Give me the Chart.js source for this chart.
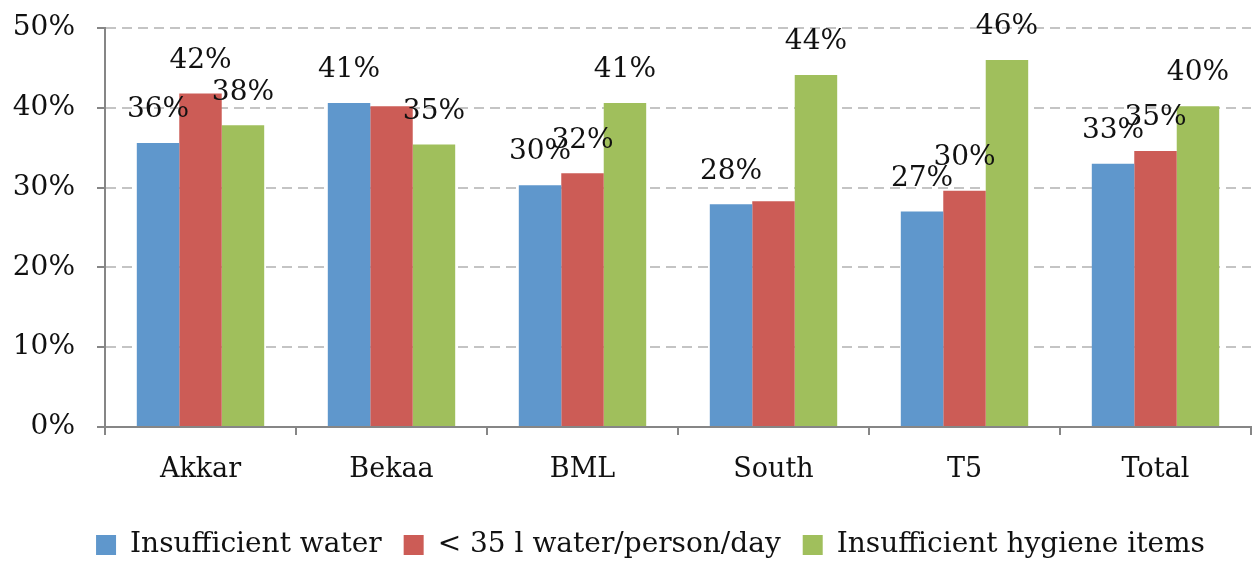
<!DOCTYPE html>
<html>
<head>
<meta charset="utf-8">
<script src="https://cdn.jsdelivr.net/npm/chart.js@4/dist/chart.umd.min.js"></script>
<style>
html,body{margin:0;padding:0;background:#fff;}
#wrap{width:1255px;height:563px;}
</style>
</head>
<body>
<div id="wrap"><canvas id="c" width="1255" height="563"></canvas></div>
<script>
const categories = ['Akkar', 'Bekaa', 'BML', 'South', 'T5', 'Total'];
const seriesNames = ['Insufficient water', '< 35 l water/person/day', 'Insufficient hygiene items'];
const insufficientWater = [35.6, 40.6, 30.3, 27.9, 27.0, 33.0];
const lessThan35l = [41.8, 40.2, 31.8, 28.3, 29.6, 34.6];
const insufficientHygiene = [37.8, 35.4, 40.6, 44.1, 46.0, 40.2];
const labelsWater = ['36%', '41%', '30%', '28%', '27%', '33%'];
const labelsLess35 = ['42%', '', '32%', '', '30%', '35%'];
const labelsHygiene = ['38%', '35%', '41%', '44%', '46%', '40%'];
const yTicks = [0, 10, 20, 30, 40, 50];

const FONT = "'DejaVu Serif', serif";
const colors = ['#5F97CC', '#CC5C56', '#A0BF5C'];
const allLabels = [labelsWater, labelsLess35, labelsHygiene];

const dataLabelPlugin = {
  id: 'dataLabels',
  afterDatasetsDraw(chart) {
    const ctx = chart.ctx;
    ctx.save();
    ctx.font = "28px " + FONT;
    ctx.fillStyle = '#111';
    ctx.textAlign = 'center';
    ctx.textBaseline = 'middle';
    chart.data.datasets.forEach((ds, di) => {
      const meta = chart.getDatasetMeta(di);
      meta.data.forEach((bar, i) => {
        const t = allLabels[di][i];
        if (!t) return;
        ctx.fillText(t, bar.x, bar.y - 33);
      });
    });
    ctx.restore();
  }
};

const legendShift = {
  id: 'legendShift',
  afterLayout(chart) {
    const lg = chart.legend;
    if (!lg) return;
    lg.left += 25; lg.right += 25;
    lg.top += 6; lg.bottom += 6;
  }
};

new Chart(document.getElementById('c'), {
  type: 'bar',
  data: {
    labels: categories,
    datasets: [
      { label: seriesNames[0], data: insufficientWater, backgroundColor: colors[0] },
      { label: seriesNames[1], data: lessThan35l, backgroundColor: colors[1] },
      { label: seriesNames[2], data: insufficientHygiene, backgroundColor: colors[2] }
    ]
  },
  options: {
    responsive: false,
    devicePixelRatio: 1,
    animation: false,
    layout: { padding: { top: 28, right: 4, left: 0, bottom: 0 } },
    datasets: { bar: { barPercentage: 1, categoryPercentage: 0.667 } },
    plugins: {
      tooltip: { enabled: false },
      legend: {
        position: 'bottom',
        labels: {
          font: { family: FONT, size: 28 },
          color: '#111',
          boxWidth: 20,
          boxHeight: 20,
          padding: 22
        }
      }
    },
    scales: {
      x: {
        grid: { display: true, drawOnChartArea: false, drawTicks: true, tickLength: 8, color: '#868686', lineWidth: 2, offset: true },
        border: { display: true, color: '#868686', width: 2 },
        ticks: { font: { family: FONT, size: 27 }, color: '#111', padding: 19 },
        afterFit(s) { s.height = 76; s.paddingLeft = 0; s.paddingRight = 0; }
      },
      y: {
        min: 0, max: 50,
        afterBuildTicks(s) { s.ticks = yTicks.map(v => ({ value: v })); },
        grid: { color: '#C4C4C4', lineWidth: 2, tickColor: '#868686', tickLength: 8, drawTicks: true },
        border: { display: true, color: '#868686', width: 2, dash: [10, 6] },
        ticks: { font: { family: FONT, size: 28 }, color: '#111', padding: 22, callback: v => v + '%' },
        afterFit(s) { s.width = 105; s.paddingTop = 0; s.paddingBottom = 0; }
      }
    }
  },
  plugins: [dataLabelPlugin, legendShift]
});
</script>
</body>
</html>
